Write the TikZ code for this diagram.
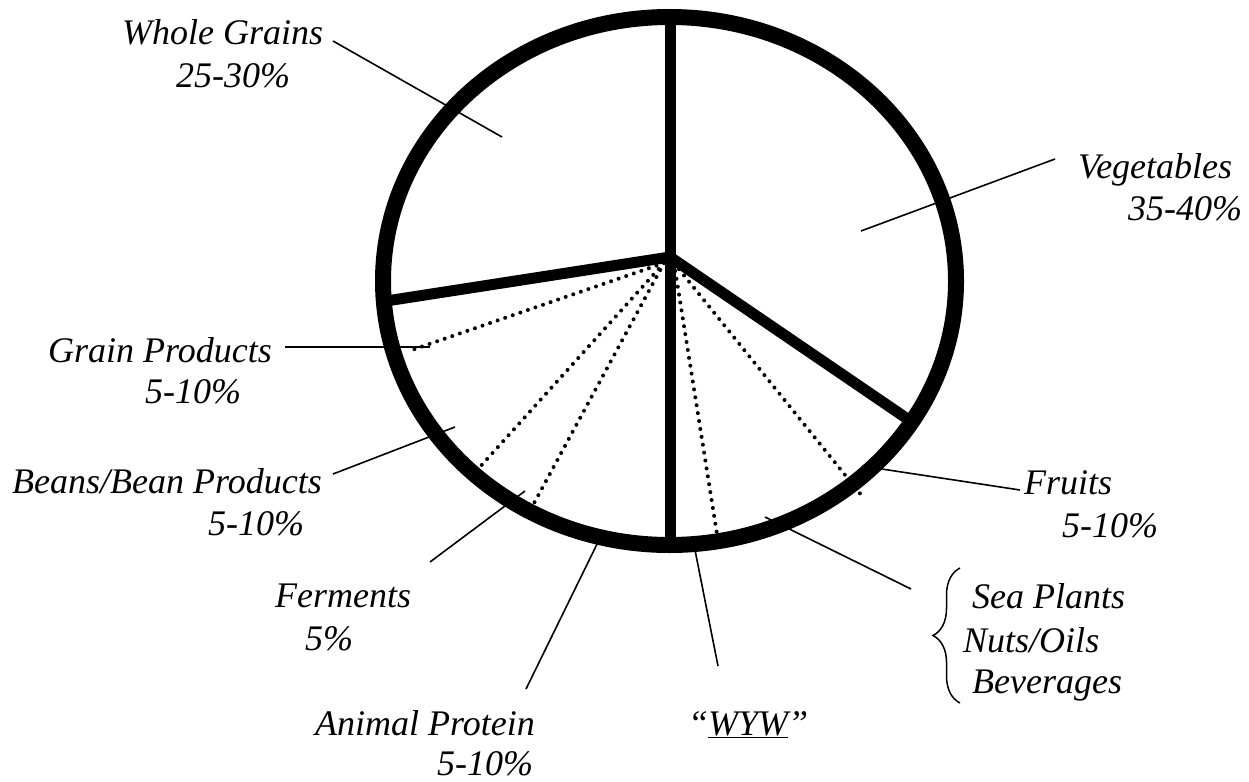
\documentclass[tikz,border=0pt]{standalone}
\usepackage{fontspec}
\setmainfont{Liberation Serif}
\usetikzlibrary{decorations.pathreplacing}
\newcommand{\labelfont}{\fontsize{36}{43}\selectfont\itshape}
\tikzset{
  ring/.style={line width=16pt},
  spoke/.style={line width=11pt},
  dotline/.style={line width=4pt, line cap=round, dash pattern=on 0pt off 8pt},
  leader/.style={line width=1.6pt},
  lbl/.style={anchor=base west, inner sep=0pt, font=\labelfont},
  bracestyle/.style={line width=1.5pt, decorate, decoration={brace, amplitude=27pt}}
}
\begin{document}
\begin{tikzpicture}[x=1pt, y=-1pt]
\useasboundingbox (0,0) rectangle (1249,781);
% key points
\coordinate (hub) at (670,257);
\coordinate (top) at (670,17);
\coordinate (bot) at (670,545);
\coordinate (lend) at (384.3,301.3);
\coordinate (rend) at (912,422);
\coordinate (dl) at (664,263);
\coordinate (dr) at (674,263);
\coordinate (d1) at (409,351);
\coordinate (d2) at (479,468);
\coordinate (d3) at (533,505);
\coordinate (d4) at (717,534);
\coordinate (d5) at (862,496);
% dotted sub-dividers
\draw[dotline] (dl) -- (d1);
\draw[dotline] (dl) -- (d2);
\draw[dotline] (dl) -- (d3);
\draw[dotline] (dr) -- (d4);
\draw[dotline] (dr) -- (d5);
% spokes
\draw[spoke] (top) -- (bot);
\draw[spoke, line cap=butt] (hub) -- (lend);
\draw[spoke] (hub) -- (rend);
% labels
\node[lbl] (wg) at (122,45) {Whole Grains};
\node[lbl] (wgp) at (176,88) {25-30\%};
\node[lbl] (veg) at (1078,178) {Vegetables};
\node[lbl] (vegp) at (1128,220) {35-40\%};
\node[lbl] (gp) at (48,362) {Grain Products};
\node[lbl] (gpp) at (145,403) {5-10\%};
\node[lbl] (bn) at (12,493) {Beans/Bean Products};
\node[lbl] (bnp) at (208,535) {5-10\%};
\node[lbl] (fe) at (275,607) {Ferments};
\node[lbl] (fep) at (305,650) {5\%};
\node[lbl] (ap) at (315,735) {Animal Protein};
\node[lbl] (app) at (437,775) {5-10\%};
\node[lbl] (wyw) at (688,735) {“\underline{WYW}”};
\node[lbl] (fr) at (1024,494) {Fruits};
\node[lbl] (frp) at (1062,537) {5-10\%};
\node[lbl] (sp) at (972,608) {Sea Plants};
\node[lbl] (no) at (963,652) {Nuts/Oils};
\node[lbl] (bv) at (972,693) {Beverages};
% leader ends
\coordinate (wgA) at (333,41);   \coordinate (wgB) at (502,137);
\coordinate (vgA) at (1055,159); \coordinate (vgB) at (861,231);
\coordinate (gpA) at (285,347);  \coordinate (gpB) at (430,347);
\coordinate (bnA) at (333,474);  \coordinate (bnB) at (455,427);
\coordinate (feA) at (430,562);  \coordinate (feB) at (525,491);
\coordinate (apA) at (526,689);  \coordinate (apB) at (600,538);
\coordinate (wyA) at (718,666);  \coordinate (wyB) at (694,545);
\coordinate (spA) at (911,589);  \coordinate (spB) at (765,517);
\coordinate (frA) at (1020,490); \coordinate (frB) at (862,466);
\draw[leader] (wgA) -- (wgB);
\draw[leader] (vgA) -- (vgB);
\draw[leader] (gpA) -- (gpB);
\draw[leader] (bnA) -- (bnB);
\draw[leader] (feA) -- (feB);
\draw[leader] (apA) -- (apB);
\draw[leader] (wyA) -- (wyB);
\draw[leader] (spA) -- (spB);
\draw[leader] (frA) -- (frB);
% brace
\coordinate (brB) at (960,703);
\coordinate (brT) at (960,568);
\draw[bracestyle] (brB) -- (brT);
% outer ring
\draw[ring] (669.5,281) ellipse [x radius=286.5pt, y radius=264pt];
\end{tikzpicture}
\end{document}
